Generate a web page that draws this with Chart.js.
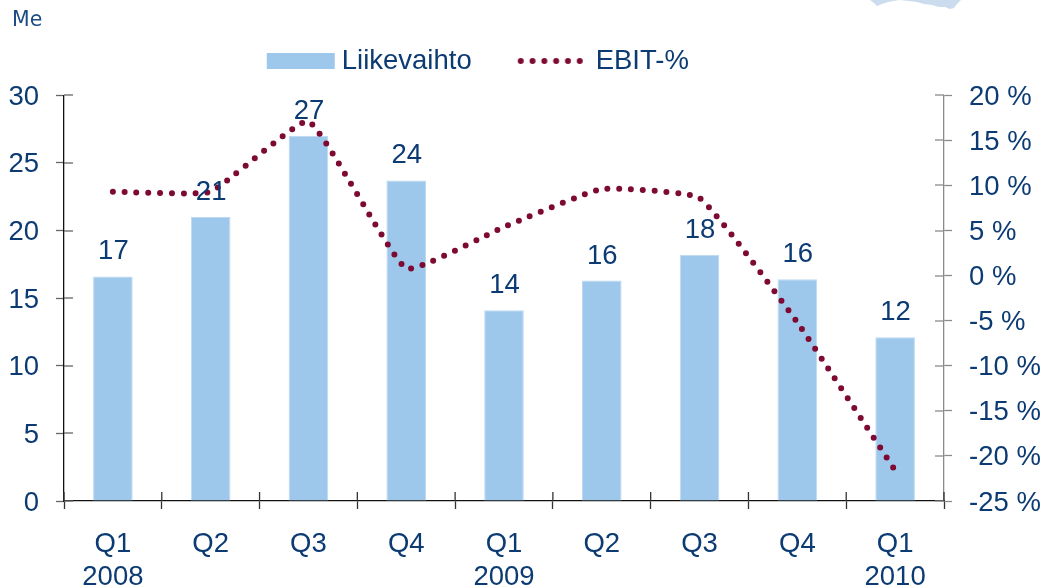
<!DOCTYPE html>
<html>
<head>
<meta charset="utf-8">
<title>Liikevaihto ja EBIT-%</title>
<script src="https://cdn.jsdelivr.net/npm/chart.js@4"></script>
<style>
  html,body{margin:0;padding:0;background:#fff;overflow:hidden}
  #wrap{position:relative;width:1044px;height:587px}
  #me{position:absolute;left:12px;top:7px;font:20.5px "DejaVu Sans",sans-serif;color:#1c4a82}
  #logo{position:absolute;left:0;top:0}
  canvas{display:block}
</style>
</head>
<body>
<div id="wrap">
  <canvas id="c" width="1044" height="587"></canvas>
  <svg id="logo" width="1044" height="12"><polygon fill="#cbdcef" points="870,0 874,3 877,6 882,4 888,2 893,1 900,0 917,2 924,4 932,5 939,7 945,7 950,9 954,8 957,4 961,0"/></svg>
  <div id="me">Me</div>
</div>
<script>
const categories = [['Q1','2008'],['Q2'],['Q3'],['Q4'],['Q1','2009'],['Q2'],['Q3'],['Q4'],['Q1','2010']];
const revenue = [16.6, 21, 27, 23.7, 14.1, 16.3, 18.2, 16.4, 12.1];
const revenueLabels = ['17','21','27','24','14','16','18','16','12'];
const ebitPct = [9.3, 9.3, 17.1, 0.8, 5.4, 9.6, 8.6, -5.2, -21.6];
const seriesNames = ['Liikevaihto','EBIT-%'];

const TEXT = '#0c3b73', BAR = '#9dc8eb', LINE = '#7d0a33';
const FONT = '"Liberation Sans", Arial, sans-serif';
const FS = 27.5;

function legendSwatch(kind){
  const cv = document.createElement('canvas');
  cv.width = 76; cv.height = 16;
  const g = cv.getContext('2d');
  if (kind === 'bar'){
    g.fillStyle = BAR; g.fillRect(4,0,68,16);
  } else {
    g.strokeStyle = LINE; g.lineWidth = 6; g.lineCap = 'round';
    g.setLineDash([0,11.8]);
    g.beginPath(); g.moveTo(4,8); g.lineTo(65,8); g.stroke();
  }
  return cv;
}

const overlay = {
  id:'overlay',
  afterLayout(chart){
    const l = chart.legend;
    l.left = 217.75;
    l.top = -8.5;
  },
  afterDatasetsDraw(chart){
    const ctx = chart.ctx, {x, y, y1} = chart.scales;
    ctx.save();
    ctx.lineWidth = 1.3;
    ctx.strokeStyle = '#666';
    y.ticks.forEach((t,i)=>{
      const p = Math.round(y.getPixelForTick(i));
      ctx.beginPath(); ctx.moveTo(x.left, p); ctx.lineTo(x.left+9, p); ctx.stroke();
    });
    ctx.strokeStyle = '#8a8a8a';
    y1.ticks.forEach((t,i)=>{
      const p = Math.round(y1.getPixelForTick(i));
      ctx.beginPath(); ctx.moveTo(x.right-9, p); ctx.lineTo(x.right, p); ctx.stroke();
    });
    ctx.strokeStyle = '#333';
    const n = categories.length;
    for (let i=0;i<=n;i++){
      const p = x.left + i*(x.right-x.left)/n;
      ctx.beginPath(); ctx.moveTo(p, y.bottom-9); ctx.lineTo(p, y.bottom); ctx.stroke();
    }
    ctx.fillStyle = TEXT;
    ctx.font = FS+'px '+FONT;
    ctx.textAlign = 'center';
    ctx.textBaseline = 'alphabetic';
    chart.getDatasetMeta(0).data.forEach((bar,i)=>{
      ctx.fillText(revenueLabels[i], bar.x+0.5, bar.y-17);
    });
    ctx.restore();
  }
};

new Chart(document.getElementById('c'),{
  data:{
    labels:categories,
    datasets:[
      {type:'bar',label:seriesNames[0],data:revenue,yAxisID:'y',order:2,
       backgroundColor:BAR,borderColor:'#bcd9f2',borderWidth:{left:1,right:1,top:1,bottom:0},
       barPercentage:0.405,categoryPercentage:1},
      {type:'line',label:seriesNames[1],data:ebitPct,yAxisID:'y1',order:1,
       borderColor:LINE,backgroundColor:LINE,borderWidth:6,borderDash:[0,11.8],borderCapStyle:'round',
       tension:0.12,pointRadius:0,fill:false}
    ]
  },
  plugins:[overlay],
  options:{
    responsive:false,animation:false,devicePixelRatio:1,
    layout:{padding:{top:2,left:0,right:0,bottom:0}},
    plugins:{
      tooltip:{enabled:false},
      legend:{
        display:true,position:'top',align:'start',
        labels:{
          color:TEXT,font:{family:FONT,size:FS},padding:55.75,
          usePointStyle:true,pointStyleWidth:54.5,
          generateLabels(){
            return [
              {text:seriesNames[0],pointStyle:legendSwatch('bar'),fontColor:TEXT,datasetIndex:0,hidden:false,lineWidth:0},
              {text:seriesNames[1],pointStyle:legendSwatch('line'),fontColor:TEXT,datasetIndex:1,hidden:false,lineWidth:0}
            ];
          }
        }
      }
    },
    scales:{
      x:{
        offset:true,
        grid:{display:true,offset:true,drawOnChartArea:false,drawTicks:true,tickLength:8,tickColor:'#333',tickWidth:1.3},
        border:{display:true,color:'#111',width:1.3},
        ticks:{color:TEXT,font:{family:FONT,size:FS},padding:18.5,maxRotation:0,autoSkip:false},
        afterFit(s){s.height=86;}
      },
      y:{
        position:'left',min:0,max:30,
        grid:{drawOnChartArea:false,drawTicks:true,tickLength:8,tickColor:'#666',tickWidth:1.3},
        border:{display:true,color:'#111',width:1.3},
        ticks:{stepSize:5,color:TEXT,font:{family:FONT,size:FS},padding:17,labelOffset:2},
        afterFit(s){s.width=64;}
      },
      y1:{
        position:'right',min:-25,max:20,
        grid:{drawOnChartArea:false,drawTicks:true,tickLength:8,tickColor:'#8a8a8a',tickWidth:1.3},
        border:{display:true,color:'#8a8a8a',width:1.3},
        ticks:{stepSize:5,color:TEXT,font:{family:FONT,size:FS},padding:17,labelOffset:2,callback:v=>v+' %'},
        afterFit(s){s.width=100;}
      }
    }
  }
});
</script>
</body>
</html>
